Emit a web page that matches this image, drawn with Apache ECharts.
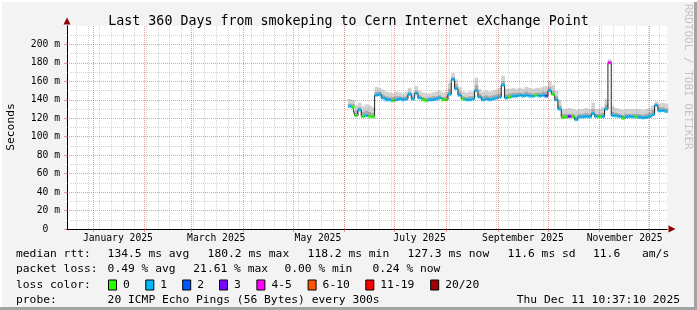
<!DOCTYPE html>
<html><head><meta charset="utf-8">
<script src="https://cdn.jsdelivr.net/npm/echarts@6/dist/echarts.min.js"></script>
<style>html,body{margin:0;padding:0;background:#f3f3f3}#c{width:697px;height:310px}</style>
</head><body><div id="c"></div>
<script>
// ---------- data ----------
const DAY = 86400000;
const startTs = Date.UTC(2024, 11, 16, 10, 37, 10);
const endTs = Date.UTC(2025, 11, 11, 10, 37, 10);
const firstSample = Date.UTC(2025, 5, 4);
const sampleStepDays = 2;

const median = [133,132,123,129,122,123,122,121.5,145,146,142,140,140,139,140,141,140,141,146,141,
  147,142,140,139,140,140,141,142,140,140,146,162,152,145,141,140,140,141,150,143,
  140,141,140,141,142,143,156,142,143,144,144,145,144,145,144,144,145,144,145,144,
  150,146,140,130,121,121.5,122,121.5,118.5,121.5,121.5,122,121.5,125,122,121.5,122,130,180.2,123,
  122.5,122,120,121.5,122,121.5,121.5,121,120.5,121,122,124,134,128,128.5,127.3];
const lossBin = [1,0,0,1,0,1,0,0,1,1,1,1,1,0,1,1,1,1,1,1,
  1,1,0,0,1,1,1,1,0,0,1,1,1,1,0,1,1,1,1,1,
  1,1,1,1,1,1,1,1,0,1,1,1,1,1,1,1,0,1,1,2,
  1,0,1,1,0,0,3,0,1,1,1,1,1,1,1,0,1,1,5,1,
  1,1,0,1,1,1,0,1,1,1,1,1,1,1,1,1];
const smokeMid = [136,136,128,132,127,128,127,126,149,149,146,144,143,143,144,144,143,144,149,144,
  150,145,143,142,143,144,144,145,143,144,152,165,157,149,144,143,144,144,156,147,
  144,145,144,145,146,147,160,146,147,148,148,148,148,149,148,147,148,148,149,149,
  154,150,144,134,125,125,125,125,123,125,125,126,125,130,125,125,126,135,182,127,
  126,125,124,125,125,125,125,125,124,125,126,129,136,132,132,131];
const smokeHi = [141,140,134,137,133,135,134,132,154,153,151,149,148,147,149,148,147,149,153,148,
  155,150,148,147,147,148,149,150,148,149,158,169,162,154,149,148,149,149,164,152,
  149,150,149,150,151,153,166,152,152,153,152,153,152,154,153,152,153,153,154,155,
  160,156,150,140,130,130,131,130,129,130,130,131,130,137,130,130,132,141,184,133,
  131,130,129,130,130,130,130,130,129,130,131,134,138,136,137,136];

const monthStarts = ['2025-01-01','2025-02-01','2025-03-01','2025-04-01','2025-05-01','2025-06-01',
  '2025-07-01','2025-08-01','2025-09-01','2025-10-01','2025-11-01','2025-12-01'];
const monthLabelDates = ['2025-01-16','2025-03-16','2025-05-16','2025-07-16','2025-09-16','2025-11-16'];
const monthLabels = ['January 2025','March 2025','May 2025','July 2025','September 2025','November 2025'];
const firstWeekLine = '2024-12-22';
const yTicks = [0,20,40,60,80,100,120,140,160,180,200];
const yMinor = [10,30,50,70,90,110,130,150,170,190,210];
const yMax = 220;

const lossColors = {0:'#26ff00',1:'#00b8ff',2:'#0059ff',3:'#7e00ff',5:'#ff00ff',10:'#ff5500',19:'#ff0000',20:'#a10000'};
const legendLoss = [['0','#26ff00'],['1','#00b8ff'],['2','#0059ff'],['3','#7e00ff'],['4-5','#ff00ff'],['6-10','#ff5500'],['11-19','#ff0000'],['20/20','#a10000']];

const titleText = 'Last 360 Days from smokeping to Cern Internet eXchange Point';
const rttStats = ['134.5 ms avg','180.2 ms max','118.2 ms min','127.3 ms now','11.6 ms sd','11.6','am/s'];
const lossStats = ['0.49 % avg','21.61 % max','0.00 % min','0.24 % now'];
const probeText = '20 ICMP Echo Pings (56 Bytes) every 300s';
const stampText = 'Thu Dec 11 10:37:10 2025';

// ---------- build ----------
function d(s){const [y,m,dd]=s.split('-').map(Number);return Date.UTC(y,m-1,dd);}
const times = median.map((_, i) => firstSample + i * sampleStepDays * DAY);
const weekLines = [];
for (let t = d(firstWeekLine); t < endTs; t += 7 * DAY) weekLines.push(t);

const MONO = 'DejaVu Sans Mono';
const RED = 'rgba(225,70,70,0.55)';
const GRAY = 'rgba(150,150,150,0.42)';
const dot = [1, 1];

const gridMarks = [];
weekLines.forEach(t => gridMarks.push({xAxis: t, lineStyle: {color: GRAY, type: dot, width: 1}}));
yMinor.forEach(v => gridMarks.push({yAxis: v, lineStyle: {color: GRAY, type: dot, width: 1}}));
monthStarts.forEach(s => gridMarks.push({xAxis: d(s), lineStyle: {color: RED, type: dot, width: 1}}));
yTicks.filter(v => v > 0).forEach(v => gridMarks.push({yAxis: v, lineStyle: {color: RED, type: dot, width: 1}}));

const base = times.map((t, i) => [t, median[i]]);
const smokeData = times.map((t, i) => [t, median[i], smokeMid[i], smokeHi[i]]);
const markers = times.map((t, i) => [t, median[i], lossBin[i]]);

const graphics = [];
function txt(x, y, s, opt) {
  graphics.push({type: 'text', x, y, silent: true,
    style: Object.assign({text: s, font: '11.3px ' + MONO, fill: '#000', textVerticalAlign: 'middle'}, opt || {})});
  return graphics[graphics.length - 1];
}
const row = [254, 269.5, 285, 300];
txt(16, row[0], 'median rtt:');
[107.6, 207.6, 307.6, 407.6, 507.6, 593, 642].forEach((x, i) => txt(x, row[0], rttStats[i]));
txt(16, row[1], 'packet loss:');
[107.6, 193.3, 284.4, 372.4].forEach((x, i) => txt(x, row[1], lossStats[i]));
txt(16, row[2], 'loss color:');
[108, 145.3, 182.2, 219, 256.4, 307.6, 365.3, 430.2].forEach((x, i) => {
  graphics.push({type: 'rect', silent: true, shape: {x: x + 0.5, y: row[2] - 5, width: 8, height: 10},
    style: {fill: legendLoss[i][1], stroke: '#000', lineWidth: 1}});
  txt(x + 15, row[2], legendLoss[i][0]);
});
txt(16, row[3], 'probe:');
txt(107.6, row[3], probeText);
txt(680, row[3], stampText, {textAlign: 'right'});
txt(11, 127, 'Seconds', {textAlign: 'center'}).rotation = Math.PI / 2;
graphics.push({type: 'text', x: 688, y: 4, rotation: -Math.PI / 2, silent: true,
  style: {text: 'RRDTOOL / TOBI OETIKER', font: '11px ' + MONO, fill: '#c4c4c4', textAlign: 'left', textVerticalAlign: 'middle'}});
// frame
graphics.push({type: 'rect', silent: true, shape: {x: 0, y: 307, width: 697, height: 3}, style: {fill: '#a3a3a3'}});
graphics.push({type: 'rect', silent: true, shape: {x: 694, y: 0, width: 3, height: 310}, style: {fill: '#a3a3a3'}});
graphics.push({type: 'rect', silent: true, shape: {x: 0, y: 0, width: 697, height: 2}, style: {fill: '#ffffff'}});
graphics.push({type: 'rect', silent: true, shape: {x: 0, y: 0, width: 2, height: 307}, style: {fill: '#ffffff'}});

const chart = echarts.init(document.getElementById('c'), null, {renderer: 'canvas'});
chart.setOption({
  animation: false,
  backgroundColor: '#f3f3f3',
  title: {text: titleText, left: 'center', top: 10,
    textStyle: {fontFamily: MONO, fontSize: 13.3, fontWeight: 'normal', color: '#000'}},
  grid: {left: 67, right: 30, top: 26, bottom: 81, show: true, backgroundColor: '#ffffff', borderWidth: 0},
  xAxis: [
    {type: 'value', position: 'bottom', min: startTs, max: endTs,
      axisLine: {show: true, lineStyle: {color: '#8b0000', width: 1}, symbol: ['none', 'triangle'], symbolSize: [7, 7], symbolOffset: [0, 5]},
      axisTick: {show: false}, axisLabel: {show: false}, splitLine: {show: false}},
    {type: 'value', position: 'bottom', min: startTs, max: endTs,
      axisLine: {show: true, lineStyle: {color: '#000', width: 1}},
      axisTick: {show: true, customValues: monthStarts.map(d), length: 3, lineStyle: {color: RED}},
      axisLabel: {show: true, customValues: monthLabelDates.map(d), margin: 4,
        fontFamily: MONO, fontSize: 9.7, color: '#000',
        formatter: v => monthLabels[monthLabelDates.map(d).indexOf(v)] || ''},
      splitLine: {show: false}}
  ],
  yAxis: [
    {type: 'value', position: 'left', min: 0, max: yMax,
      axisLine: {show: true, lineStyle: {color: '#8b0000', width: 1}, symbol: ['none', 'triangle'], symbolSize: [7, 7], symbolOffset: [0, 5]},
      axisTick: {show: false}, axisLabel: {show: false}, splitLine: {show: false}},
    {type: 'value', position: 'left', min: 0, max: yMax,
      axisLine: {show: true, lineStyle: {color: '#000', width: 1}},
      axisTick: {show: true, customValues: yTicks, length: 3, lineStyle: {color: RED}},
      axisLabel: {show: true, customValues: yTicks, margin: 7, fontFamily: MONO, fontSize: 9.7, color: '#000',
        formatter: v => v === 0 ? '0  ' : v + ' m'},
      splitLine: {show: false}}
  ],
  series: [
    {type: 'line', name: 'grid', data: base, showSymbol: false, symbol: 'none',
      lineStyle: {width: 0, opacity: 0}, z: 1, silent: true,
      markLine: {silent: true, symbol: ['none', 'none'], label: {show: false}, animation: false, data: gridMarks}},
    {type: 'custom', name: 'smoke', data: smokeData, z: 2, silent: true,
      encode: {x: 0, y: [1, 2, 3]},
      renderItem: (params, api) => {
        const t = api.value(0);
        const half = sampleStepDays * DAY / 2;
        const a = api.coord([t - half, api.value(1)]);
        const b = api.coord([t + half, api.value(2)]);
        const c = api.coord([t + half, api.value(3)]);
        const w = b[0] - a[0] + 0.3;
        return {type: 'group', children: [
          {type: 'rect', shape: {x: a[0], y: c[1], width: w, height: b[1] - c[1]}, style: {fill: '#d2d2d2'}},
          {type: 'rect', shape: {x: a[0], y: b[1], width: w, height: a[1] - b[1]}, style: {fill: '#a9a9a9'}}
        ]};
      }},
    {type: 'line', name: 'median', data: base, step: 'middle', showSymbol: false, symbol: 'none',
      lineStyle: {color: '#202020', width: 1}, z: 3, silent: true},
    {type: 'scatter', name: 'loss', data: markers, symbol: 'rect', symbolSize: [3.6, 3], z: 4, silent: true,
      itemStyle: {color: p => lossColors[p.data[2]]}}
  ],
  graphic: graphics
});
</script></body></html>
